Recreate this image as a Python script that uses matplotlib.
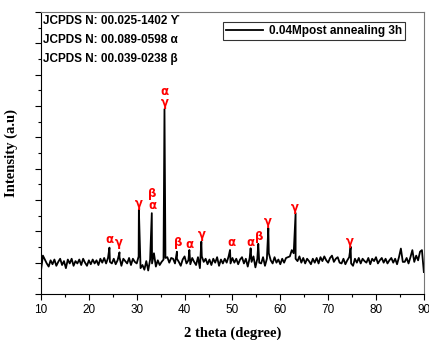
import numpy as np
import matplotlib
matplotlib.use("Agg")
import matplotlib.pyplot as plt
from matplotlib.ticker import MultipleLocator, NullFormatter

# background noise, one value every 0.4 deg from 10 to 90
bg_theta = np.arange(10, 90.01, 0.4)
bg_int = [
    -50, 45, 20, -5, -25, 15, -10, 20, -20, 5,
    25, -15, 10, -35, 20, -5, 25, -20, 10, -5,
    20, -15, 25, 0, -20, 15, -10, 20, -5, 15,
    -15, 25, 0, 30, -5, 30, 5, -5, 25, -10,
    15, 35, -20, 25, 10, -5, 30, -15, 25, 5,
    -5, 40, -35, -15, -45, 10, -50, 20, -5, 60,
    -25, 15, -15, 5, 20, 30, 35, 0, 30, 25,
    -5, 25, 5, -20, 20, 40, -5, 15, -10, 30,
    5, -15, 35, -35, 40, 5, 25, -10, 20, -15,
    25, 0, 35, -20, 20, -5, 25, 0, 40, -5,
    30, 0, 25, -10, 20, 35, -5, 25, -25, 30,
    5, 40, -30, 25, 0, -5, 35, -20, 25, 60,
    15, -5, 35, 0, 20, -10, 25, 0, 30, 35,
    40, 80, 60, 25, 10, 40, 0, 30, -5, 25,
    10, -10, 25, 0, 30, -5, 35, 10, 40, 15,
    0, 30, 45, 5, 25, 35, 0, -5, 25, -10,
    15, 35, -5, -20, 25, 0, 30, -5, 25, 10,
    0, 30, -10, 25, 10, 35, -5, 15, 30, 0,
    25, -5, 15, 30, 0, 25, -10, 35, 90, 5,
    5, 30, -5, 35, 80, 5, 45, 15, 70, 80,
    -60,
]

# diffraction peaks
peak_theta = [24.3, 26.4, 30.45, 33.15, 35.8, 38.4, 41.0, 43.5,
              49.5, 53.8, 55.4, 57.5, 63.2, 74.7]
peak_int = [96, 66, 337, 316, 980, 70, 81, 134,
            81, 92, 120, 220, 316, 102]

# phase labels above the peaks
label_theta = [24.4, 26.3, 30.4, 33.2, 33.2, 35.85, 35.85, 38.6, 41.1,
               43.6, 49.7, 53.8, 55.6, 57.4, 63.1, 74.5]
label_int = [145, 130, 375, 440, 362, 1095, 1020, 126, 113,
             177, 126, 126, 170, 260, 355, 138]
label_txt = ["α", "γ", "γ", "β", "α", "α", "γ", "β", "α",
             "γ", "α", "α", "β", "γ", "γ", "γ"]

jcpds_lines = ["JCPDS N: 00.025-1402 ϒ",
               "JCPDS N: 00.089-0598 α",
               "JCPDS N: 00.039-0238 β"]

theta = np.concatenate([bg_theta, peak_theta])
inten = np.concatenate([bg_int, peak_int])
order = np.argsort(theta)
theta, inten = theta[order], inten[order]

fig = plt.figure(figsize=(4.29, 3.4), dpi=100)
ax = fig.add_axes([0.0956, 0.1353, 0.8924, 0.8294])
ax.plot(theta, inten, color="black", lw=1.3, label="0.04Mpost annealing 3h")

for t, y, s in zip(label_theta, label_int, label_txt):
    ax.text(t, y, s, color="red", fontsize=8.5, fontweight="bold",
            ha="center", va="center", family="DejaVu Sans")

for i, s in enumerate(jcpds_lines):
    ax.text(0.004, 0.968 - i * 0.068, s, transform=ax.transAxes,
            fontsize=8.5, fontweight="bold", va="center",
            family=["Liberation Sans", "DejaVu Sans"])

leg = ax.legend(loc="upper right", bbox_to_anchor=(0.952, 0.965),
                frameon=True, fancybox=False, edgecolor="black",
                prop={"family": "Liberation Sans", "weight": "bold", "size": 8.5},
                handlelength=3.2, borderpad=0.25, handletextpad=0.5,
                borderaxespad=0.0)
leg.get_frame().set_linewidth(0.8)

ax.set_xlim(10, 90)
ax.set_ylim(-200, 1600)
ax.xaxis.set_major_locator(MultipleLocator(10))
ax.xaxis.set_minor_locator(MultipleLocator(5))
ax.yaxis.set_major_locator(MultipleLocator(200))
ax.yaxis.set_minor_locator(MultipleLocator(100))
ax.yaxis.set_major_formatter(NullFormatter())
ax.tick_params(which="major", direction="out", length=4, width=0.8)
ax.tick_params(which="minor", direction="out", length=2, width=0.8)
for lab in ax.get_xticklabels():
    lab.set_family("Liberation Sans")
    lab.set_fontsize(8.5)

for sp in ax.spines.values():
    sp.set_linewidth(0.8)
ax.spines["right"].set_color("#777777")
ax.spines["top"].set_color("#777777")

ax.set_xlabel("2 theta (degree)", family="Liberation Serif",
              fontweight="bold", fontsize=10.5, labelpad=7)
ax.set_ylabel("Intensity (a.u)", family="Liberation Serif",
              fontweight="bold", fontsize=10.5, labelpad=9)

fig.savefig("out.png", dpi=100)
